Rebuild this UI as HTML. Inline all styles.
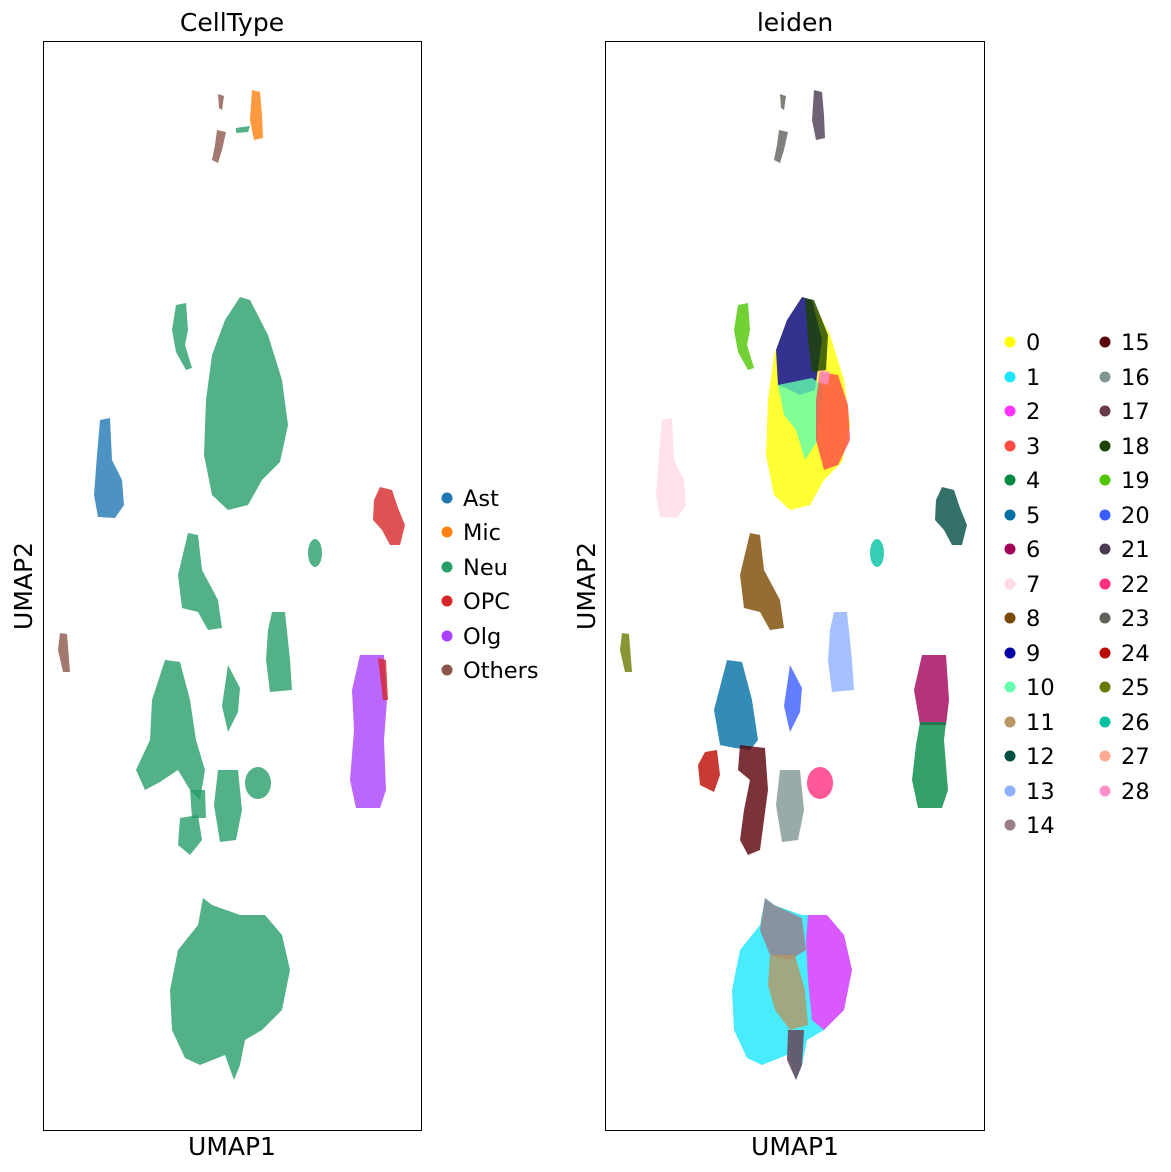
<!DOCTYPE html>
<html><head><meta charset="utf-8"><style>
html,body{margin:0;padding:0;background:#fff;}
svg{display:block;font-family:"DejaVu Sans","Liberation Sans",sans-serif;}
</style></head><body>
<svg width="1171" height="1172" viewBox="0 0 1171 1172" xmlns="http://www.w3.org/2000/svg">
<rect width="1171" height="1172" fill="#fff"/>
<g fill-opacity="0.8">
<path d="M218,94 L224,96 L222,110 L219,108 Z" fill="#8c564b"/>
<path d="M217,130 L226,132 L222,150 L218,163 L212,160 L215,145 Z" fill="#8c564b"/>
<path d="M252,90 L260,92 L262,115 L263,138 L254,140 L250,120 Z" fill="#ff7f0e"/>
<path d="M236,128 L250,126 L248,132 L236,133 Z" fill="#279e68"/>
<path d="M176,305 L186,303 L188,330 L185,345 L192,368 L186,370 L176,352 L172,330 Z" fill="#279e68"/>
<path d="M240,297 L250,300 L268,335 L282,380 L288,425 L280,462 L262,480 L248,505 L228,510 L212,495 L204,455 L206,400 L212,355 L225,320 Z" fill="#279e68"/>
<path d="M100,420 L110,418 L112,460 L122,480 L124,505 L115,518 L98,517 L94,495 L97,455 Z" fill="#1f77b4"/>
<path d="M380,487 L392,490 L398,508 L405,525 L400,545 L390,545 L382,530 L373,520 L374,500 Z" fill="#d62728"/>
<ellipse cx="315" cy="553" rx="7" ry="14" fill="#279e68"/>
<path d="M188,533 L198,535 L202,570 L218,600 L222,628 L208,630 L198,612 L182,608 L178,575 Z" fill="#279e68"/>
<path d="M60,633 L67,634 L70,672 L63,672 L58,650 Z" fill="#8c564b"/>
<path d="M272,612 L285,612 L290,660 L292,690 L270,692 L266,660 L268,630 Z" fill="#279e68"/>
<path d="M360,655 L384,655 L387,700 L384,740 L386,790 L380,808 L356,808 L350,780 L354,730 L352,690 Z" fill="#aa40fc"/>
<path d="M378,658 L386,660 L388,700 L383,700 Z" fill="#d62728"/>
<path d="M165,660 L180,662 L190,700 L196,740 L205,770 L200,800 L190,790 L178,770 L160,782 L145,790 L136,770 L150,740 L152,700 Z" fill="#279e68"/>
<path d="M228,665 L240,688 L238,712 L228,732 L222,706 Z" fill="#279e68"/>
<path d="M218,770 L238,770 L242,810 L236,840 L220,842 L214,805 Z" fill="#279e68"/>
<path d="M180,818 L198,815 L202,840 L190,855 L178,845 Z" fill="#279e68"/>
<path d="M190,790 L205,790 L206,818 L192,818 Z" fill="#279e68"/>
<ellipse cx="258" cy="783" rx="13" ry="16" fill="#279e68"/>
<path d="M203,898 L212,905 L240,915 L265,915 L282,935 L290,970 L282,1010 L262,1030 L245,1040 L240,1065 L234,1080 L225,1055 L200,1065 L185,1058 L172,1030 L170,990 L178,950 L198,925 Z" fill="#279e68"/>
</g>
<rect x="43.5" y="41.5" width="378" height="1089" fill="none" stroke="#000" stroke-width="1"/>
<text x="232" y="31" font-size="25" text-anchor="middle">CellType</text>
<text x="232" y="1155" font-size="25" text-anchor="middle">UMAP1</text>
<text transform="translate(32,586) rotate(-90)" font-size="25" text-anchor="middle">UMAP2</text>
<g font-size="22.5">
<circle cx="447" cy="498" r="5.5" fill="#1f77b4"/><text x="463" y="506">Ast</text>
<circle cx="447" cy="532" r="5.5" fill="#ff7f0e"/><text x="463" y="540">Mic</text>
<circle cx="447" cy="567" r="5.5" fill="#279e68"/><text x="463" y="575">Neu</text>
<circle cx="447" cy="601" r="5.5" fill="#d62728"/><text x="463" y="609">OPC</text>
<circle cx="447" cy="636" r="5.5" fill="#aa40fc"/><text x="463" y="644">Olg</text>
<circle cx="447" cy="670" r="5.5" fill="#8c564b"/><text x="463" y="678">Others</text>
</g>

<g fill-opacity="0.8">
<path d="M780,94 L786,96 L784,110 L781,108 Z" fill="#61615A"/>
<path d="M779,130 L788,132 L784,150 L780,163 L774,160 L777,145 Z" fill="#61615A"/>
<path d="M814,90 L822,92 L824,115 L825,138 L816,140 L812,120 Z" fill="#4A3B53"/>
<path d="M738,305 L748,303 L750,330 L747,345 L754,368 L748,370 L738,352 L734,330 Z" fill="#4FC601"/>
<path d="M802,297 L812,300 L830,335 L844,380 L850,425 L842,462 L824,480 L810,505 L790,510 L774,495 L766,455 L768,400 L774,355 L787,320 Z" fill="#FFFF00"/>
<path d="M802,297 L812,300 L822,340 L815,390 L800,395 L790,390 L778,385 L776,350 L787,320 Z" fill="#0000A6"/>
<path d="M805,298 L814,300 L828,335 L826,370 L812,372 L808,340 Z" fill="#1B4400"/>
<path d="M778,385 L812,378 L822,385 L818,440 L805,460 L796,430 L784,415 Z" fill="#63FFAC"/>
<path d="M820,372 L838,375 L848,405 L850,440 L838,465 L824,470 L816,440 L816,400 Z" fill="#FF4A46"/>
<path d="M820,370 L830,372 L828,385 L818,382 Z" fill="#FF90C9"/>
<path d="M662,420 L672,418 L674,460 L684,480 L686,505 L677,518 L660,517 L656,495 L659,455 Z" fill="#FFDBE5"/>
<path d="M942,487 L954,490 L960,508 L967,525 L962,545 L952,545 L944,530 L935,520 L936,500 Z" fill="#004D43"/>
<ellipse cx="877" cy="553" rx="7" ry="14" fill="#00C2A0"/>
<path d="M750,533 L760,535 L764,570 L780,600 L784,628 L770,630 L760,612 L744,608 L740,575 Z" fill="#7A4900"/>
<path d="M622,633 L629,634 L632,672 L625,672 L620,650 Z" fill="#6B7900"/>
<path d="M834,612 L847,612 L852,660 L854,690 L832,692 L828,660 L830,630 Z" fill="#8FB0FF"/>
<path d="M922,655 L946,655 L949,700 L946,725 L920,725 L914,690 Z" fill="#A30059"/>
<path d="M920,722 L946,722 L944,740 L948,790 L942,808 L918,808 L912,780 L916,745 Z" fill="#008941"/>
<path d="M727,660 L742,662 L752,700 L758,740 L750,750 L735,748 L720,745 L714,710 Z" fill="#006FA6"/>
<path d="M790,665 L802,688 L800,712 L790,732 L784,706 Z" fill="#3B5DFF"/>
<path d="M705,752 L717,750 L720,775 L714,792 L700,785 L698,765 Z" fill="#BA0900"/>
<path d="M740,745 L765,748 L768,790 L764,820 L760,850 L748,855 L740,840 L744,810 L750,780 L738,770 Z" fill="#5A0007"/>
<path d="M780,770 L800,770 L804,810 L798,840 L782,842 L776,805 Z" fill="#809693"/>
<ellipse cx="820" cy="783" rx="13" ry="16" fill="#FF2F80"/>
<path d="M765,898 L774,905 L802,915 L827,915 L844,935 L852,970 L844,1010 L824,1030 L807,1040 L802,1065 L796,1080 L787,1055 L762,1065 L747,1058 L734,1030 L732,990 L740,950 L760,925 Z" fill="#1CE6FF"/>
<path d="M808,915 L827,915 L844,935 L852,970 L844,1010 L824,1030 L812,1020 L808,980 L806,940 Z" fill="#FF34FF"/>
<path d="M765,898 L774,905 L802,918 L806,950 L790,960 L770,955 L760,930 Z" fill="#997D87"/>
<path d="M770,955 L795,955 L805,990 L808,1025 L790,1030 L775,1010 L768,985 Z" fill="#B79762"/>
<path d="M788,1030 L804,1030 L802,1065 L796,1080 L787,1060 Z" fill="#6A3A4C"/>
</g>
<rect x="605.5" y="41.5" width="379" height="1089" fill="none" stroke="#000" stroke-width="1"/>
<text x="795" y="31" font-size="25" text-anchor="middle">leiden</text>
<text x="795" y="1155" font-size="25" text-anchor="middle">UMAP1</text>
<text transform="translate(595,586) rotate(-90)" font-size="25" text-anchor="middle">UMAP2</text>
<g font-size="22.5">
<circle cx="1010" cy="342" r="5.5" fill="#FFFF00"/><text x="1026" y="350">0</text>
<circle cx="1010" cy="377" r="5.5" fill="#1CE6FF"/><text x="1026" y="385">1</text>
<circle cx="1010" cy="411" r="5.5" fill="#FF34FF"/><text x="1026" y="419">2</text>
<circle cx="1010" cy="446" r="5.5" fill="#FF4A46"/><text x="1026" y="454">3</text>
<circle cx="1010" cy="480" r="5.5" fill="#008941"/><text x="1026" y="488">4</text>
<circle cx="1010" cy="515" r="5.5" fill="#006FA6"/><text x="1026" y="523">5</text>
<circle cx="1010" cy="549" r="5.5" fill="#A30059"/><text x="1026" y="557">6</text>
<circle cx="1010" cy="584" r="5.5" fill="#FFDBE5"/><text x="1026" y="592">7</text>
<circle cx="1010" cy="618" r="5.5" fill="#7A4900"/><text x="1026" y="626">8</text>
<circle cx="1010" cy="653" r="5.5" fill="#0000A6"/><text x="1026" y="661">9</text>
<circle cx="1010" cy="687" r="5.5" fill="#63FFAC"/><text x="1026" y="695">10</text>
<circle cx="1010" cy="722" r="5.5" fill="#B79762"/><text x="1026" y="730">11</text>
<circle cx="1010" cy="756" r="5.5" fill="#004D43"/><text x="1026" y="764">12</text>
<circle cx="1010" cy="791" r="5.5" fill="#8FB0FF"/><text x="1026" y="799">13</text>
<circle cx="1010" cy="825" r="5.5" fill="#997D87"/><text x="1026" y="833">14</text>
<circle cx="1105" cy="342" r="5.5" fill="#5A0007"/><text x="1121" y="350">15</text>
<circle cx="1105" cy="377" r="5.5" fill="#809693"/><text x="1121" y="385">16</text>
<circle cx="1105" cy="411" r="5.5" fill="#6A3A4C"/><text x="1121" y="419">17</text>
<circle cx="1105" cy="446" r="5.5" fill="#1B4400"/><text x="1121" y="454">18</text>
<circle cx="1105" cy="480" r="5.5" fill="#4FC601"/><text x="1121" y="488">19</text>
<circle cx="1105" cy="515" r="5.5" fill="#3B5DFF"/><text x="1121" y="523">20</text>
<circle cx="1105" cy="549" r="5.5" fill="#4A3B53"/><text x="1121" y="557">21</text>
<circle cx="1105" cy="584" r="5.5" fill="#FF2F80"/><text x="1121" y="592">22</text>
<circle cx="1105" cy="618" r="5.5" fill="#61615A"/><text x="1121" y="626">23</text>
<circle cx="1105" cy="653" r="5.5" fill="#BA0900"/><text x="1121" y="661">24</text>
<circle cx="1105" cy="687" r="5.5" fill="#6B7900"/><text x="1121" y="695">25</text>
<circle cx="1105" cy="722" r="5.5" fill="#00C2A0"/><text x="1121" y="730">26</text>
<circle cx="1105" cy="756" r="5.5" fill="#FFAA92"/><text x="1121" y="764">27</text>
<circle cx="1105" cy="791" r="5.5" fill="#FF90C9"/><text x="1121" y="799">28</text>
</g>
</svg>
</body></html>
